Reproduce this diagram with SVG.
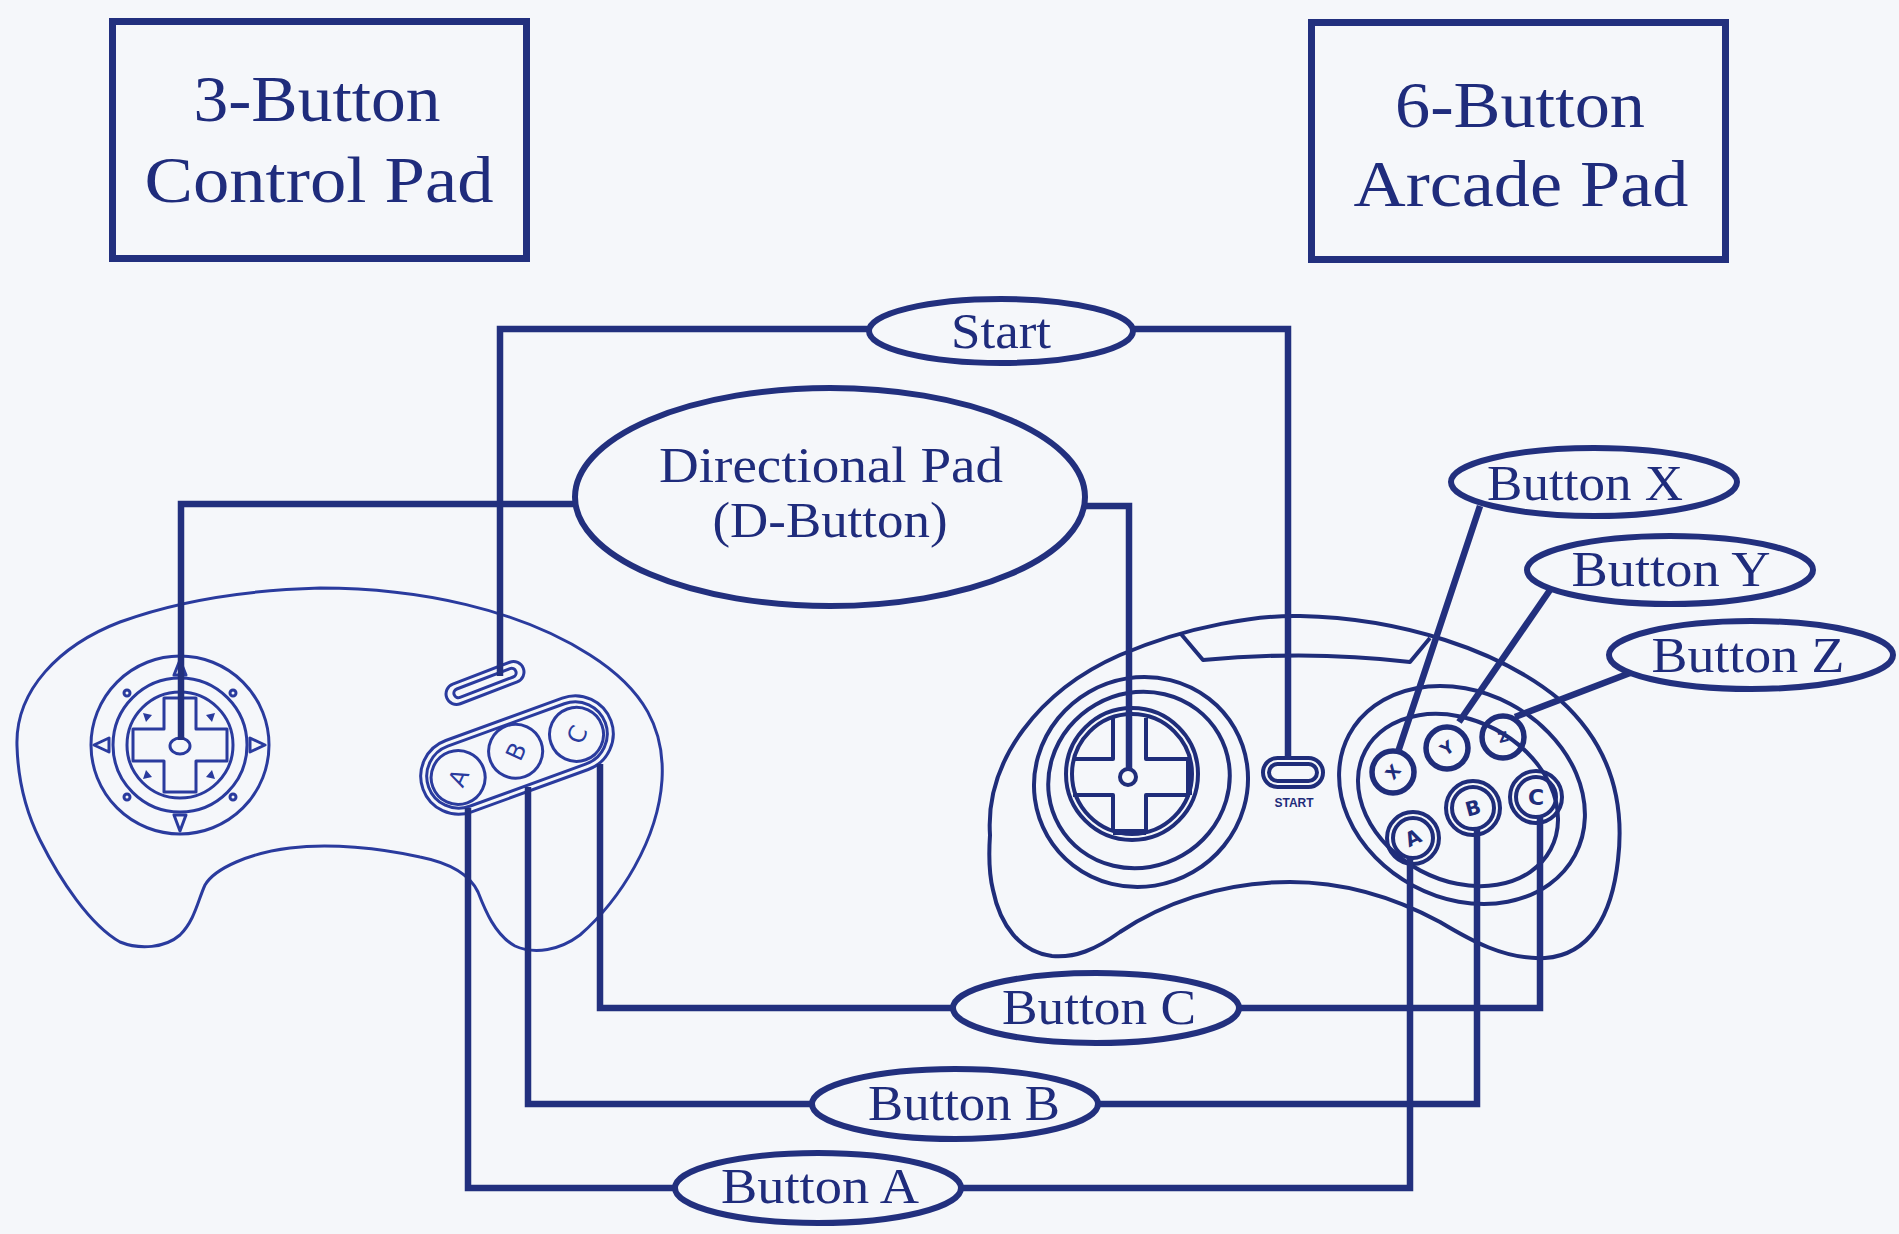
<svg xmlns="http://www.w3.org/2000/svg" width="1899" height="1234" viewBox="0 0 1899 1234">
<style>
.bg{fill:#f5f7fa}
.conn{fill:none;stroke:#22307e;stroke-width:6.5;stroke-linejoin:miter;stroke-linecap:butt}
.box{fill:none;stroke:#22307e;stroke-width:7}
.lbl{fill:none;stroke:#22307e;stroke-width:6}
.t{font-family:"Liberation Serif","Times New Roman",serif;fill:#1f2c7c;text-anchor:middle}
.title{font-size:66px}
.lt{font-size:50px}
.p3{fill:none;stroke:#2a3b9e;stroke-width:3;stroke-linejoin:round}
.p3f{fill:#2a3b9e;stroke:none}
.p6{fill:none;stroke:#1f2d7a;stroke-width:4;stroke-linejoin:round}
.p6k{fill:none;stroke:#1f2d7a;stroke-width:5.5}
.bl{font-family:"DejaVu Sans","Liberation Sans",sans-serif;text-anchor:middle}
</style>
<rect class="bg" x="0" y="0" width="1899" height="1234"/>

<g id="title-3button">
<rect class="box" x="112.5" y="21.5" width="414" height="237"/>
<text class="t title" x="317" y="121" textLength="247" lengthAdjust="spacingAndGlyphs">3-Button</text>
<text class="t title" x="319" y="202" textLength="349" lengthAdjust="spacingAndGlyphs">Control Pad</text>
</g>

<g id="title-6button">
<rect class="box" x="1311.5" y="22.5" width="414" height="237"/>
<text class="t title" x="1520" y="127" textLength="250" lengthAdjust="spacingAndGlyphs">6-Button</text>
<text class="t title" x="1521" y="206" textLength="335" lengthAdjust="spacingAndGlyphs">Arcade Pad</text>
</g>

<g id="pad3">
<path class="p3" d="M17,746 C15,690 60,645 120,622 C180,600 250,590 320,588 C420,588 520,610 590,655 C645,690 665,730 662,780 C658,840 620,900 580,935 C560,950 535,955 515,946 C495,935 485,910 478,892 C470,875 450,863 420,857 C380,848 330,843 290,848 C250,853 215,868 205,885 C198,900 195,920 180,935 C165,948 140,950 120,942 C90,925 60,880 40,840 C25,810 18,780 17,746 Z"/>
<circle class="p3" cx="180" cy="745" r="89"/>
<circle class="p3" cx="180" cy="745" r="67"/>
<circle class="p3" cx="180" cy="745" r="53"/>
<path class="p3" d="M164,698 H196 V729 H227 V761 H196 V792 H164 V761 H133 V729 H164 Z"/>
<ellipse class="p3" cx="180" cy="746" rx="10" ry="8"/>
<path class="p3" d="M94,745 L109,738 L109,752 Z M265,745 L250,738 L250,752 Z M180,831 L174,815 L186,815 Z M180,660 L174,675 L186,675 Z"/>
<circle class="p3" cx="127" cy="693" r="3"/>
<circle class="p3" cx="233" cy="693" r="3"/>
<circle class="p3" cx="127" cy="797" r="3"/>
<circle class="p3" cx="233" cy="797" r="3"/>
<path class="p3f" d="M143,713 L152,715 L146,722 Z M215,713 L206,715 L212,722 Z M143,779 L152,777 L146,770 Z M215,779 L206,777 L212,770 Z"/>
<g transform="translate(485,683) rotate(-21)">
<rect class="p3" x="-41" y="-10.5" width="82" height="21" rx="10.5"/>
<rect class="p3" x="-33" y="-4.5" width="66" height="9" rx="4.5"/>
</g>
<g transform="translate(517,755) rotate(-20)">
<rect class="p3" x="-100" y="-38" width="200" height="76" rx="38"/>
<rect class="p3" x="-94" y="-32" width="188" height="64" rx="32"/>
<circle class="p3" cx="-63" cy="1" r="27"/>
<circle class="p3" cx="0" cy="-4" r="27"/>
<circle class="p3" cx="63" cy="1" r="27"/>
<text class="bl" x="0" y="0" font-size="24" fill="#2a3b9e" transform="translate(-63,1) rotate(-45) translate(0,9)">A</text>
<text class="bl" x="0" y="0" font-size="24" fill="#2a3b9e" transform="translate(0,-4) rotate(-45) translate(0,9)">B</text>
<text class="bl" x="0" y="0" font-size="24" fill="#2a3b9e" transform="translate(63,1) rotate(-45) translate(0,9)">C</text>
</g>
</g>

<g id="pad6">
<path class="p6" d="M990,835 C985,760 1040,690 1120,655 C1190,625 1260,615 1300,616 C1400,618 1500,650 1560,700 C1610,745 1625,800 1618,860 C1612,915 1590,955 1545,958 C1505,960 1470,940 1440,922 C1390,895 1340,882 1290,882 C1220,882 1160,905 1120,932 C1095,950 1075,958 1052,956 C1020,952 1000,925 993,890 C988,870 989,850 990,835 Z"/>
<path class="p6" d="M1181,634 L1203,660 Q1310,650 1410,662 L1430,638"/>
<ellipse class="p6" cx="1141" cy="782" rx="108" ry="104" transform="rotate(-30 1141 782)"/>
<ellipse class="p6" cx="1139" cy="780" rx="92" ry="87" transform="rotate(-30 1139 780)"/>
<circle class="p6" cx="1132" cy="774" r="66"/>
<circle class="p6" cx="1132" cy="774" r="60"/>
<path class="p6" d="M1113,718 L1113,759 L1073,759 M1073,795 L1113,795 L1113,832 M1146,832 L1146,795 L1190,795 M1190,759 L1146,759 L1146,718"/>
<path fill="none" stroke="#1f2d7a" stroke-width="6" d="M1113,832 H1146 M1189,759 V795"/>
<circle class="p6" cx="1128" cy="777" r="8"/>
<rect class="p6" x="1263" y="758" width="60" height="29" rx="14.5"/>
<rect class="p6" x="1269" y="764" width="48" height="17" rx="8.5"/>
<text x="1294" y="807" font-family="Liberation Sans, Arial, sans-serif" font-size="12" font-weight="bold" fill="#1f2d7a" text-anchor="middle">START</text>
<ellipse class="p6" cx="1462" cy="795" rx="128" ry="103" transform="rotate(28 1462 795)"/>
<ellipse class="p6" cx="1458" cy="800" rx="105" ry="80" transform="rotate(28 1458 800)"/>
<circle class="p6k" cx="1393" cy="772" r="21"/>
<circle class="p6k" cx="1447" cy="748" r="21"/>
<circle class="p6k" cx="1503" cy="737" r="21"/>
<circle class="p6" cx="1413" cy="838" r="26"/>
<circle class="p6" cx="1413" cy="838" r="20"/>
<circle class="p6" cx="1473" cy="808" r="27"/>
<circle class="p6" cx="1473" cy="808" r="21"/>
<circle class="p6" cx="1536" cy="797" r="26"/>
<circle class="p6" cx="1536" cy="797" r="20"/>
<text class="bl" font-size="17" font-weight="bold" fill="#1f2d7a" transform="translate(1393,772) rotate(-50) translate(0,6)">X</text>
<text class="bl" font-size="17" font-weight="bold" fill="#1f2d7a" transform="translate(1447,748) rotate(-35) translate(0,6)">Y</text>
<text class="bl" font-size="14" font-weight="bold" fill="#1f2d7a" transform="translate(1503,737) rotate(-15) translate(0,5)">Z</text>
<text class="bl" font-size="20" font-weight="bold" fill="#1f2d7a" transform="translate(1413,838) rotate(-25) translate(0,7)">A</text>
<text class="bl" font-size="20" font-weight="bold" fill="#1f2d7a" transform="translate(1473,808) rotate(-15) translate(0,7)">B</text>
<text class="bl" font-size="22" font-weight="bold" fill="#1f2d7a" transform="translate(1536,797) translate(0,8)">C</text>
</g>

<g id="connectors">
<path class="conn" d="M868,329 H500 V676"/>
<path class="conn" d="M1134,329 H1288 V760"/>
<path class="conn" d="M576,504 H181 V740"/>
<path class="conn" d="M1085,506 H1129 V770"/>
<path class="conn" d="M1480,506 L1398,752"/>
<path class="conn" d="M1550,590 L1459,722"/>
<path class="conn" d="M1630,673 L1515,717"/>
<path class="conn" d="M600,764 V1008 H953"/>
<path class="conn" d="M1239,1008 H1540 V815"/>
<path class="conn" d="M528,787 V1104 H812"/>
<path class="conn" d="M1098,1104 H1477 V828"/>
<path class="conn" d="M468,808 V1188 H675"/>
<path class="conn" d="M961,1188 H1410 V858"/>
</g>

<g id="lbl-start">
<ellipse class="lbl" cx="1001" cy="331" rx="132" ry="32"/>
<text class="t lt" x="1001" y="348" textLength="100" lengthAdjust="spacingAndGlyphs">Start</text>
</g>
<g id="lbl-dpad">
<ellipse class="lbl" cx="830" cy="497" rx="255" ry="109"/>
<text class="t lt" x="831" y="482" textLength="344" lengthAdjust="spacingAndGlyphs">Directional Pad</text>
<text class="t lt" x="830" y="537" textLength="235" lengthAdjust="spacingAndGlyphs">(D-Button)</text>
</g>
<g id="lbl-x">
<ellipse class="lbl" cx="1594" cy="482" rx="143" ry="34"/>
<text class="t lt" x="1585" y="500" textLength="196" lengthAdjust="spacingAndGlyphs">Button X</text>
</g>
<g id="lbl-y">
<ellipse class="lbl" cx="1670" cy="570" rx="143" ry="34"/>
<text class="t lt" x="1671" y="586" textLength="199" lengthAdjust="spacingAndGlyphs">Button Y</text>
</g>
<g id="lbl-z">
<ellipse class="lbl" cx="1751" cy="655" rx="142" ry="34"/>
<text class="t lt" x="1748" y="672" textLength="193" lengthAdjust="spacingAndGlyphs">Button Z</text>
</g>
<g id="lbl-c">
<ellipse class="lbl" cx="1096" cy="1008" rx="143" ry="35"/>
<text class="t lt" x="1099" y="1024" textLength="194" lengthAdjust="spacingAndGlyphs">Button C</text>
</g>
<g id="lbl-b">
<ellipse class="lbl" cx="955" cy="1104" rx="143" ry="35"/>
<text class="t lt" x="964" y="1120" textLength="192" lengthAdjust="spacingAndGlyphs">Button B</text>
</g>
<g id="lbl-a">
<ellipse class="lbl" cx="818" cy="1188" rx="143" ry="35"/>
<text class="t lt" x="820" y="1203" textLength="198" lengthAdjust="spacingAndGlyphs">Button A</text>
</g>
</svg>
